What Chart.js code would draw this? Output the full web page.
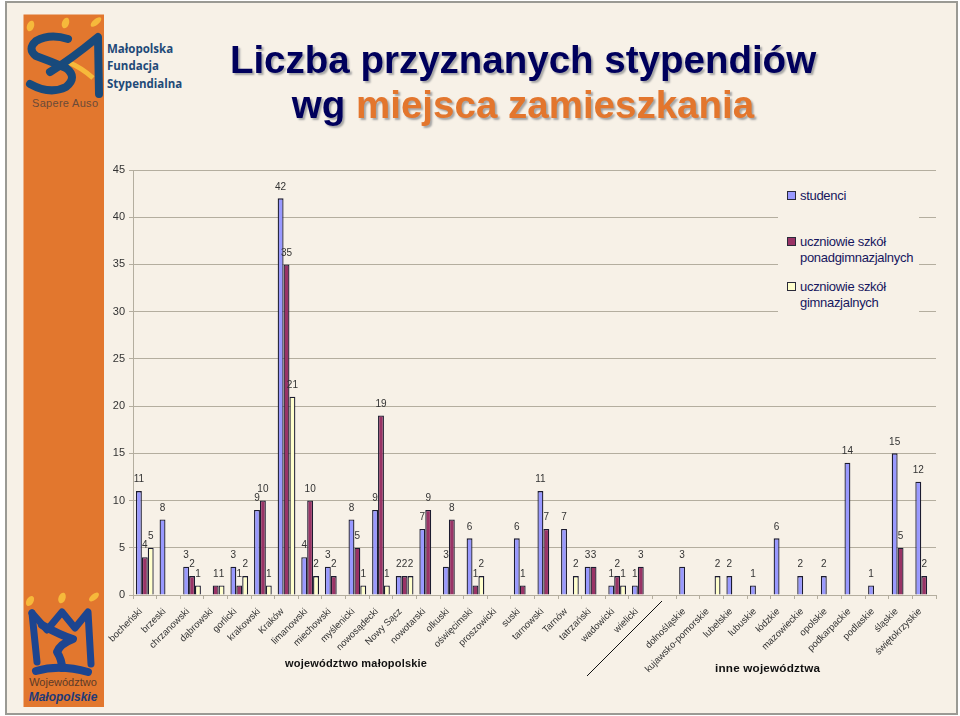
<!DOCTYPE html>
<html lang="pl">
<head>
<meta charset="utf-8">
<title>Liczba przyznanych stypendiów</title>
<script src="https://cdn.jsdelivr.net/npm/chart.js@4"></script>
<style>
    html, body { margin: 0; padding: 0; background: #fff; }
    #page { position: relative; width: 960px; height: 716px; overflow: hidden; }
    #frame { position: absolute; left: 5px; top: 1px; width: 949px; height: 710px; border: 2px solid #9a9a94; background: #f7f1e7; }
    #barChart { position: absolute; left: 0; top: 0; }
    #logos { position: absolute; left: 0; top: 0; }
    .title { position: absolute; left: 129px; width: 788px; text-align: center; font: bold 38.5px "Liberation Sans", Arial, sans-serif; color: #00005c; text-shadow: 2px 2px 2px #a5a5a5; white-space: nowrap; }
    .title span { color: #e3762d; }
    .group { position: absolute; font: bold 11px "Liberation Sans", Arial, sans-serif; color: #111; white-space: nowrap; letter-spacing: 0.2px; }
    #legend { position: absolute; left: 778px; top: 180px; width: 141px; height: 140px; background: #f7f1e7; }
    .legend-item { position: absolute; left: 22px; font: 13px/16px "Liberation Sans", Arial, sans-serif; color: #16165e; letter-spacing: -0.3px; white-space: nowrap; }
    .legend-item i { position: absolute; left: -13px; top: 3px; width: 7px; height: 7px; border: 1px solid #2a2a3a; }
</style>
</head>
<body>
<div id="page">
    <div id="frame"></div>
    <svg id="logos" width="960" height="716" xmlns="http://www.w3.org/2000/svg">
        <rect x="23.5" y="14.5" width="80.5" height="692.5" fill="#e2772e"/>
        <!-- top logo -->
        <g fill="#f6b93b">
            <ellipse cx="30.5" cy="26" rx="3.5" ry="5.5" transform="rotate(20 30.5 26)"/>
            <ellipse cx="65.5" cy="23" rx="3.5" ry="5.5" transform="rotate(20 65.5 23)"/>
            <ellipse cx="96" cy="22" rx="3" ry="6.5" transform="rotate(50 96 22)"/>
        </g>
        <path d="M68 62 Q82 68 93 78" stroke="#f6b93b" stroke-width="5" fill="none"/>
        <g stroke="#184a7c" fill="none" stroke-linecap="round" stroke-linejoin="round">
            <path d="M68 39 Q50 33 36 41 Q27 49 36 56 Q50 61 66 68 Q78 77 66 87 Q50 95 30 84" stroke-width="8"/>
            <path d="M50 72 Q70 60 98 37 L99 94" stroke-width="8"/>
        </g>
        <text x="32" y="107" font-family="Liberation Sans" font-size="11" fill="#6a4a38" textLength="66">Sapere Auso</text>
        <g font-family="Open Sans" font-weight="700" font-size="11.5" fill="#1f4a78">
            <text x="107" y="53">Małopolska</text>
            <text x="107" y="70">Fundacja</text>
            <text x="107" y="88">Stypendialna</text>
        </g>
        <!-- bottom logo -->
        <g fill="#f6b93b">
            <ellipse cx="30" cy="601" rx="3.5" ry="5.5" transform="rotate(30 30 601)"/>
            <ellipse cx="62" cy="598" rx="3.5" ry="5.5" transform="rotate(20 62 598)"/>
            <ellipse cx="94" cy="597" rx="3" ry="6" transform="rotate(50 94 597)"/>
        </g>
        <g stroke="#1d4590" fill="none" stroke-linecap="round" stroke-linejoin="round">
            <path d="M32 613 L37 662" stroke-width="7"/>
            <path d="M32 613 L47 630 L62 612 L75 628 L88 612 L91 664" stroke-width="7"/>
            <path d="M42 625 Q62 636 73 639 Q60 644 57 652 Q62 660 62 668" stroke-width="8"/>
            <path d="M36 671 Q60 664 88 672" stroke-width="8"/>
        </g>
        <text x="63" y="686" text-anchor="middle" font-family="Liberation Sans" font-size="11" fill="#5c3a28">Województwo</text>
        <text x="63" y="701" text-anchor="middle" font-family="Liberation Sans" font-weight="700" font-style="italic" font-size="12" fill="#1d3a78">Małopolskie</text>
        <!-- separator between the two groups of categories -->
        <line x1="662" y1="601" x2="587" y2="676" stroke="#111" stroke-width="1"/>
    </svg>
    <canvas id="barChart" width="960" height="716"></canvas>
    <div class="title" style="top:38px">Liczba przyznanych stypendiów</div>
    <div class="title" style="top:83px">wg <span>miejsca zamieszkania</span></div>
    <div class="group" style="left:285px;top:657px">województwo małopolskie</div>
    <div class="group" style="left:715px;top:661px;font-size:11.7px">inne województwa</div>
    <div id="legend"></div>
</div>

<script>
const categories = ['bocheński', 'brzeski', 'chrzanowski', 'dąbrowski', 'gorlicki', 'krakowski', 'Kraków', 'limanowski',
    'miechowski', 'myślenicki', 'nowosądecki', 'Nowy Sącz', 'nowotarski', 'olkuski', 'oświęcimski', 'proszowicki',
    'suski', 'tarnowski', 'Tarnów', 'tatrzański', 'wadowicki', 'wielicki', '', 'dolnośląskie', 'kujawsko-pomorskie',
    'lubelskie', 'lubuskie', 'łódzkie', 'mazowieckie', 'opolskie', 'podkarpackie', 'podlaskie', 'śląskie', 'świętokrzyskie'];

const studenci = [11, 8, 3, null, 3, 9, 42, 4, 3, 8, 9, 2, 7, 3, 6, null, 6, 11, 7, 3, 1, 1, null, 3, null, 2, 1, 6, 2, 2, 14, 1, 15, 12];
const ponadgimnazjalne = [4, null, 2, 1, 1, 10, 35, 10, 2, 5, 19, 2, 9, 8, 1, null, 1, 7, null, 3, 2, 3, null, null, null, null, null, null, null, null, null, null, 5, 2];
const gimnazjalne = [5, null, 1, 1, 2, 1, 21, 2, null, 1, 1, 2, null, null, 2, null, null, null, 2, null, 1, null, null, null, 2, null, null, null, null, null, null, null, null, null];

const yTicksMax = 45;
const yTicksStep = 5;

const legendNames = ['studenci', 'uczniowie szkół<br>ponadgimnazjalnych', 'uczniowie szkół<br>gimnazjalnych'];
const seriesColors = ['#9999ff', '#993366', '#ffffcc'];
const legendTops = [8, 54, 99];

// Legend is plain html, it sits over the gridlines like the original box
const legendBox = document.getElementById('legend');
legendNames.forEach((name, i) => {
    const item = document.createElement('div');
    item.className = 'legend-item';
    item.style.top = legendTops[i] + 'px';
    item.innerHTML = '<i style="background:' + seriesColors[i] + '"></i>' + name;
    legendBox.appendChild(item);
});

// Value labels above the bars
const valueLabels = {
    id: 'valueLabels',
    afterDatasetsDraw(chart) {
        const ctx = chart.ctx;
        ctx.save();
        ctx.font = '10px "Liberation Sans", Arial, sans-serif';
        ctx.fillStyle = '#333';
        ctx.textAlign = 'center';
        ctx.textBaseline = 'middle';
        chart.data.datasets.forEach((ds, i) => {
            chart.getDatasetMeta(i).data.forEach((bar, j) => {
                if (ds.data[j] === null) return;
                ctx.fillText(ds.data[j], bar.x, bar.y - 11.5);
            });
        });
        ctx.restore();
    }
};

const gridColor = '#b4ae9f';

new Chart(document.getElementById('barChart').getContext('2d'), {
    type: 'bar',
    data: {
        labels: categories,
        datasets: [studenci, ponadgimnazjalne, gimnazjalne].map((values, i) => ({
            label: legendNames[i].replace('<br>', ' '),
            data: values,
            backgroundColor: seriesColors[i],
            borderColor: '#1c1c30',
            borderWidth: 1.3,
            categoryPercentage: 0.75,
            barPercentage: 1
        }))
    },
    options: {
        responsive: false,
        animation: false,
        layout: { padding: { top: 170, right: 24, left: 0, bottom: 0 } },
        plugins: {
            legend: { display: false },
            tooltip: { enabled: false }
        },
        scales: {
            x: {
                afterFit(scale) { scale.height = 121; },
                grid: { drawOnChartArea: false, color: gridColor, tickLength: 4 },
                border: { color: gridColor },
                ticks: {
                    autoSkip: false,
                    minRotation: 45,
                    maxRotation: 45,
                    padding: 7,
                    labelOffset: -4,
                    color: '#333',
                    font: { family: '"Liberation Sans", Arial, sans-serif', size: 9.5 }
                }
            },
            y: {
                min: 0,
                max: yTicksMax,
                afterFit(scale) { scale.width = 133; },
                grid: { color: gridColor, tickLength: 4 },
                border: { color: gridColor },
                ticks: {
                    stepSize: yTicksStep,
                    padding: 4,
                    color: '#333',
                    font: { family: '"Liberation Sans", Arial, sans-serif', size: 11 }
                }
            }
        }
    },
    plugins: [valueLabels]
});
</script>
</body>
</html>
